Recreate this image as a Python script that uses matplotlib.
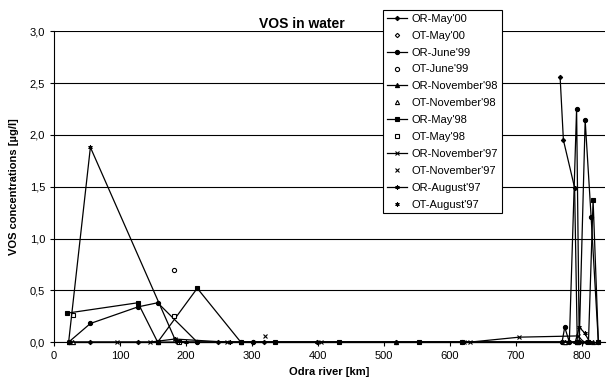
import matplotlib
matplotlib.use('Agg')
import matplotlib.pyplot as plt
from matplotlib.ticker import FuncFormatter, MultipleLocator

plt.rcParams['font.family'] = ['Liberation Sans', 'DejaVu Sans']

# Odra river km / VOS concentrations
or_may00_km = [767, 772, 789, 793, 618, 518, 398, 318, 283, 248, 217, 157, 127, 55, 22]
or_may00_val = [2.56, 1.95, 1.49, 0, 0, 0, 0, 0, 0, 0, 0, 0, 0, 0, 0]
ot_may00_km = [186, 302]
ot_may00_val = [0, 0]

or_jun99_km = [22, 55, 127, 157, 217, 302, 770, 774, 781, 792, 796, 805, 814, 825]
or_jun99_val = [0, 0.18, 0.34, 0.38, 0, 0, 0, 0.145, 0, 2.25, 0, 2.14, 1.21, 0]
ot_jun99_km = [182]
ot_jun99_val = [0.70]

or_nov98_km = [22, 157, 283, 518, 774, 793, 817]
or_nov98_val = [0, 0, 0, 0, 0, 0, 0]
ot_nov98_km = [28, 774]
ot_nov98_val = [0, 0]

or_may98_km = [20, 127, 157, 217, 283, 335, 432, 553, 618, 793, 810, 817, 825]
or_may98_val = [0.28, 0.38, 0, 0.52, 0, 0, 0, 0, 0, 0, 0, 1.37, 0]
ot_may98_km = [28, 182, 190]
ot_may98_val = [0.265, 0.25, 0]

or_nov97_km = [22, 95, 145, 183, 262, 405, 622, 630, 705, 794, 803]
or_nov97_val = [0, 0, 0, 0.03, 0, 0, 0, 0, 0.048, 0.06, 0]
ot_nov97_km = [320]
ot_nov97_val = [0.055]

or_aug97_km = [22, 55, 183, 190, 200, 267, 398, 620, 790, 796, 804, 812]
or_aug97_val = [0, 1.88, 0.03, 0.01, 0, 0, 0, 0, 0, 0.145, 0.09, 0]
ot_aug97_km = [187]
ot_aug97_val = [0.01]

fig = plt.figure(figsize=(6.08, 3.81), dpi=100)
ax = fig.add_axes([0.089, 0.102, 0.906, 0.816])

star = (6, 2, 0)
lw = 0.9
ms = 3.0

# (x, y, marker, filled, line, label)
series = [
    (or_may00_km, or_may00_val, 'D', True, True, "OR-May'00"),
    (ot_may00_km, ot_may00_val, 'D', False, False, "OT-May'00"),
    (or_jun99_km, or_jun99_val, 'o', True, True, "OR-June'99"),
    (ot_jun99_km, ot_jun99_val, 'o', False, False, "OT-June'99"),
    (or_nov98_km, or_nov98_val, '^', True, True, "OR-November'98"),
    (ot_nov98_km, ot_nov98_val, '^', False, False, "OT-November'98"),
    (or_may98_km, or_may98_val, 's', True, True, "OR-May'98"),
    (ot_may98_km, ot_may98_val, 's', False, False, "OT-May'98"),
    (or_nov97_km, or_nov97_val, 'x', True, True, "OR-November'97"),
    (ot_nov97_km, ot_nov97_val, 'x', True, False, "OT-November'97"),
    (or_aug97_km, or_aug97_val, star, True, True, "OR-August'97"),
    (ot_aug97_km, ot_aug97_val, star, True, False, "OT-August'97"),
]

handles = []
for x, y, m, filled, line, label in series:
    size = ms if m != 'D' else ms - 0.8
    h, = ax.plot(x, y, marker=m, linestyle='-' if line else 'none',
                 color='black', linewidth=lw, markersize=size,
                 markerfacecolor='black' if filled else 'white',
                 markeredgecolor='black', markeredgewidth=0.8,
                 label=label, clip_on=False, zorder=3)
    handles.append(h)

ax.set_xlim(0, 835)
ax.set_ylim(0, 3.0)
ax.xaxis.set_major_locator(MultipleLocator(100))
ax.yaxis.set_major_locator(MultipleLocator(0.5))
ax.yaxis.set_major_formatter(FuncFormatter(lambda v, p: f'{v:.1f}'.replace('.', ',')))
ax.grid(axis='y', color='black', linewidth=0.8)
ax.set_axisbelow(True)
for s in ['top', 'right']:
    ax.spines[s].set_visible(False)
ax.spines['left'].set_linewidth(0.8)
ax.spines['bottom'].set_linewidth(0.8)
ax.tick_params(labelsize=8, length=3, width=0.8, direction='out', colors='black')

ax.set_xlabel('Odra river [km]', fontsize=8, fontweight='bold', labelpad=4)
ax.set_ylabel('VOS concentrations [µg/l]', fontsize=8, fontweight='bold', labelpad=8)
fig.text(0.497, 0.938, 'VOS in water', ha='center', va='center', fontsize=10, fontweight='bold')

leg = fig.legend(handles=handles, loc='upper left', bbox_to_anchor=(0.63, 0.974),
                 borderaxespad=0, fontsize=8, frameon=True, fancybox=False,
                 framealpha=1, edgecolor='black', labelspacing=0.62,
                 handlelength=1.8, handletextpad=0.4, borderpad=0.35)
leg.get_frame().set_linewidth(0.8)

fig.savefig('out.png', dpi=100)
